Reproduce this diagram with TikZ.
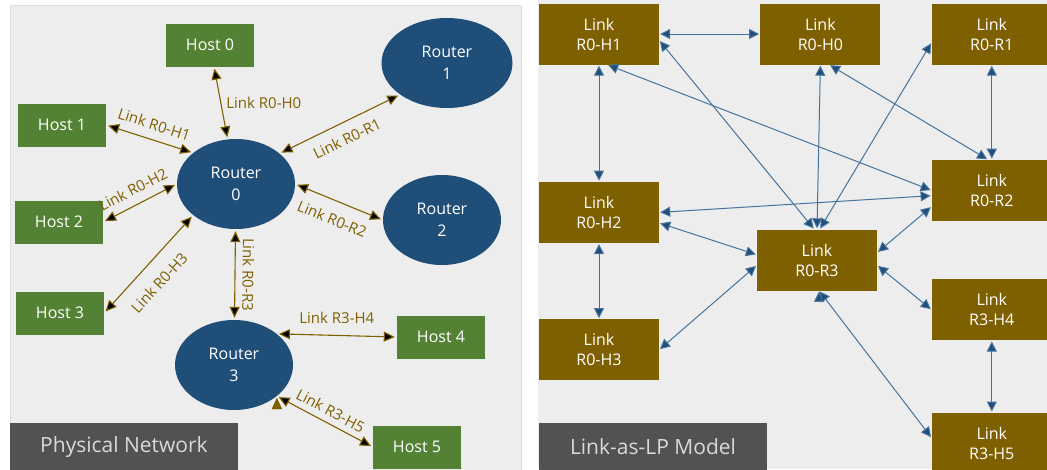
\documentclass[tikz,border=0pt]{standalone}
\usepackage{fontspec}
\setmainfont{Open Sans}
\usepackage{xcolor}
\usepackage{tikz}
\usetikzlibrary{positioning,shapes.geometric,arrows.meta}
\definecolor{hostgreen}{RGB}{84,130,53}
\definecolor{routerblue}{RGB}{31,78,121}
\definecolor{linkgold}{RGB}{127,96,0}
\definecolor{panelgray}{RGB}{237,237,237}
\definecolor{tabgray}{RGB}{82,82,82}
\definecolor{lineblue}{RGB}{70,115,158}
\tikzset{host node/.style={rectangle,fill=hostgreen,text=white,minimum width=88pt,minimum height=43pt,inner sep=0pt,font=\fontsize{16}{19}\selectfont},
router node/.style={ellipse,fill=routerblue,text=white,minimum width=118pt,minimum height=90pt,inner sep=0pt,align=center,font=\fontsize{16}{22}\selectfont},
lp node/.style={rectangle,fill=linkgold,text=white,minimum width=120pt,minimum height=61pt,inner sep=0pt,align=center,font=\fontsize{16}{20}\selectfont},
tab node/.style={rectangle,fill=tabgray,text=black!15,minimum width=228pt,minimum height=48pt,inner sep=0pt,font=\fontsize{21}{25}\selectfont},
link label/.style={text=linkgold,inner sep=1pt,font=\fontsize{15}{18}\selectfont},
phys link/.style={draw=linkgold,line width=1.1pt,{Triangle[length=11pt,width=10pt]}-{Triangle[length=11pt,width=10pt]},shorten <=2pt,shorten >=2pt},
lp link/.style={draw=lineblue,line width=1pt,{Triangle[length=10pt,width=10pt,fill=routerblue]}-{Triangle[length=10pt,width=10pt,fill=routerblue]},shorten <=1pt,shorten >=1pt},}

\begin{document}
\begin{tikzpicture}[x=1pt,y=-1pt]
    \useasboundingbox (0,0) rectangle (1047,469);
    \fill[panelgray,draw=black!12] (10,5) rectangle (521,475);
    \fill[panelgray] (538,0) rectangle (1047,469);

    % physical network
    \node[host node] (h0) at (210,45) {Host 0};
    \node[host node] (h1) at (62,125) {Host 1};
    \node[host node] (h2) at (59,222) {Host 2};
    \node[host node] (h3) at (60,313) {Host 3};
    \node[host node] (h4) at (441,337) {Host 4};
    \node[host node] (h5) at (417,447) {Host 5};
    \node[router node] (r0) at (236,184) {Router\\0};
    \node[router node,minimum width=131pt] (r1) at (447,63) {Router\\1};
    \node[router node] (r2) at (442,220) {Router\\2};
    \node[router node] (r3) at (234,365) {Router\\3};
    \node[tab node] (tabphys) at (124,447) {Physical Network};

    \path[phys link]
    (h0) edge node[link label,right=4pt] {Link R0-H0} (r0)
    (h1.east) edge node[link label,sloped,above=8pt] {Link R0-H1} (r0.144)
    (h2.east) edge node[link label,sloped,above=8pt] {Link R0-H2} (r0.west)
    (h3.east) edge node[link label,sloped,below=13pt,pos=0.45] {Link R0-H3} (r0.216)
    (r0.35) edge node[link label,sloped,below=9pt] {Link R0-R1} (r1.214)
    (r0.east) edge node[link label,sloped,below=11pt] {Link R0-R2} (r2.west)
    (r0) edge node[link label,sloped,allow upside down,above=6pt] {Link R0-R3} (r3)
    (r3.36) edge node[link label,above=10pt] {Link R3-H4} (h4.west)
    (r3.324) edge node[link label,sloped,above=5pt] {Link R3-H5} (h5.west)
    ;

    % link-as-LP model
    \node[lp node] (lh1) at (599,34) {Link\\R0-H1};
    \node[lp node] (lh0) [right=101pt of lh1] {Link\\R0-H0};
    \node[lp node] (lr1) [right=51pt of lh0] {Link\\R0-R1};
    \node[lp node] (lh2) [below=117pt of lh1] {Link\\R0-H2};
    \node[lp node] (lh3) [below=76pt of lh2] {Link\\R0-H3};
    \node[lp node] (lr2) [below=95pt of lr1] {Link\\R0-R2};
    \node[lp node] (lh4) [below=58pt of lr2] {Link\\R3-H4};
    \node[lp node] (lh5) [below=72pt of lh4] {Link\\R3-H5};
    \node[lp node] (lr3) at (817,260) {Link\\R0-R3};
    \node[tab node] (tablp) at (653,447) {Link-as-LP Model};

    \path[lp link]
    (lh1) edge (lh0)
    (lh1) edge (lh2)
    (lh1.285) edge (lr2.west)
    (lh1.-6) edge (lr3.95)
    (lh0.south) edge (lr3.north)
    (lh0.286) edge (lr2.97)
    (lr1) edge (lr2)
    (lr1.188) edge (lr3.85)
    (lr2.195) edge (lr3.7)
    (lh2.east) edge (lr2.185)
    (lh2.-10) edge (lr3.175)
    (lh3.east) edge (lr3.185)
    (lh2) edge (lh3)
    (lr3.-5) edge (lh4.west)
    (lr3.-86) edge (lh5.175)
    (lh4) edge (lh5)
    ;
\end{tikzpicture}
\end{document}
